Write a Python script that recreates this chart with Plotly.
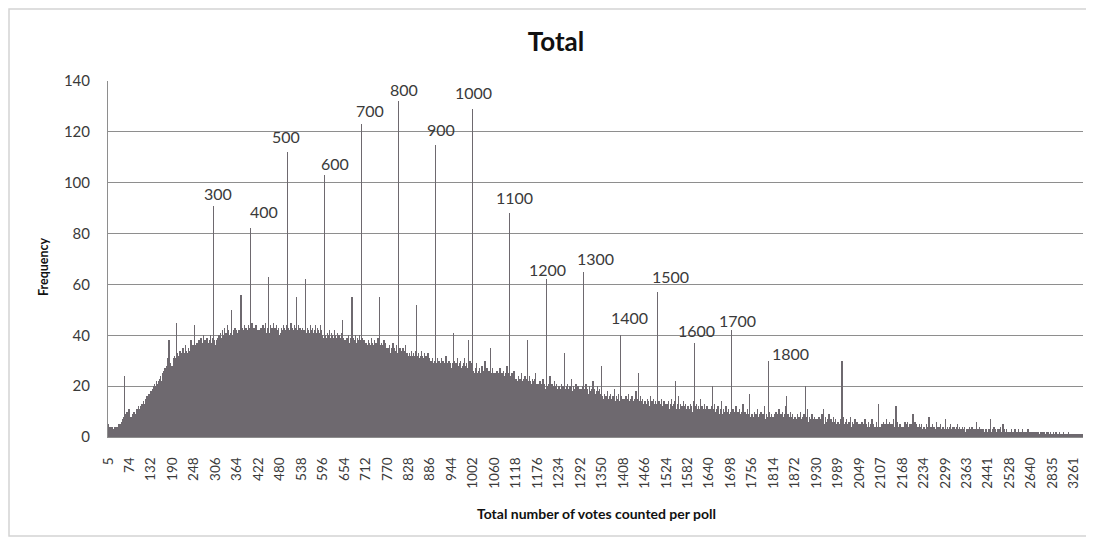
import plotly.graph_objects as go

# ---------------- data ----------------
tick_labels = [5, 74, 132, 190, 248, 306, 364, 422, 480, 538, 596, 654, 712, 770, 828, 886,
               944, 1002, 1060, 1118, 1176, 1234, 1292, 1350, 1408, 1466, 1524, 1582, 1640,
               1698, 1756, 1814, 1872, 1930, 1989, 2049, 2107, 2168, 2234, 2299, 2363, 2441,
               2528, 2640, 2835, 3261]

peak_labels = [300, 400, 500, 600, 700, 800, 900, 1000, 1100, 1200, 1300, 1400, 1500,
               1600, 1700, 1800]

# vote totals that occur below 74
vote_values_low = [5, 7, 9, 11, 12, 14, 16, 17, 19, 20, 22, 23, 25, 26, 27, 29, 30, 31, 32, 34,
                   35, 36, 37, 38, 40, 41, 42, 43, 44, 45, 46, 47, 48, 49, 50, 51, 52, 53, 54,
                   55, 56, 57, 58, 59, 60, 61, 62, 63, 64, 65, 66, 67, 68, 69, 70, 71, 72, 73]

# vote totals between 74 and 2527 that never occur
absent_values = [1971, 2019, 2043, 2126, 2149, 2161, 2177, 2186, 2195, 2203, 2211, 2218, 2224,
                 2231, 2241, 2249, 2258, 2266, 2275, 2284, 2293, 2307, 2316, 2327, 2336, 2345,
                 2356, 2366, 2370, 2373, 2377, 2381, 2384, 2388, 2391, 2395, 2398, 2402, 2406,
                 2409, 2413, 2417, 2421, 2425, 2429, 2433, 2437, 2443, 2446, 2449, 2452, 2455,
                 2458, 2461, 2464, 2467, 2470, 2473, 2476, 2479, 2482, 2485, 2488, 2491, 2494,
                 2497, 2502, 2505, 2508, 2511, 2514, 2517, 2519, 2521, 2523, 2525]

# vote totals that occur from 2528 upward
vote_values_sparse = [
    2528, 2530, 2532, 2533, 2535, 2537, 2539, 2540, 2542, 2544, 2546, 2548, 2549, 2551, 2553,
    2555, 2557, 2558, 2560, 2562, 2564, 2566, 2568, 2569, 2571, 2573, 2575, 2577, 2579, 2581,
    2583, 2585, 2587, 2589, 2591, 2593, 2595, 2597, 2599, 2600, 2602, 2604, 2606, 2608, 2610,
    2612, 2614, 2616, 2618, 2620, 2622, 2624, 2626, 2628, 2630, 2632, 2635, 2638,
    2640, 2643, 2646, 2650, 2653, 2656, 2660, 2663, 2666, 2670, 2673, 2677, 2680, 2683, 2687,
    2690, 2694, 2697, 2700, 2704, 2707, 2711, 2714, 2717, 2721, 2724, 2728, 2731, 2735, 2738,
    2741, 2745, 2748, 2752, 2755, 2759, 2762, 2766, 2769, 2773, 2776, 2780, 2783, 2787, 2790,
    2794, 2797, 2800, 2804, 2807, 2811, 2814, 2818, 2821, 2825, 2828, 2831, 2833,
    2835, 2842, 2849, 2856, 2864, 2871, 2878, 2886, 2893, 2900, 2908, 2915, 2922, 2930, 2937,
    2944, 2952, 2959, 2966, 2974, 2981, 2988, 2996, 3000, 3008, 3015, 3023, 3030, 3037, 3045,
    3052, 3060, 3067, 3074, 3082, 3089, 3097, 3104, 3111, 3119, 3126, 3134, 3141, 3148, 3156,
    3163, 3171, 3178, 3186, 3193, 3200, 3208, 3215, 3223, 3230, 3238, 3245, 3253,
    3261, 3278, 3296, 3315, 3340, 3362, 3391, 3418, 3450, 3487, 3520, 3566, 3610, 3655, 3712,
    3780, 3850, 3933, 4021, 4150, 4302, 4488, 4705, 5012, 5630]

# frequencies (number of polls) for each vote total, in order
frequency_low = [5, 4, 3, 4, 2, 3, 3, 2, 4, 3, 2, 3, 4, 3, 3, 2, 3, 4, 3, 3, 4, 3, 2, 4, 3, 3, 4, 3, 4, 5,
                 3, 4, 4, 5, 4, 5, 6, 5, 6, 7, 6, 7, 8, 7, 24, 8, 7, 8, 9, 8, 9, 10, 9, 10, 9, 11, 10, 11]

frequency_rise = [
    6, 4, 7, 5, 8, 6, 5, 7, 9, 6, 8, 7, 10, 7, 6, 9, 8, 7, 10, 8, 11, 9, 7, 10, 12, 8, 9, 11, 10, 8, 12, 10, 9, 13, 11, 10, 12, 14, 11, 10, 13, 12, 15, 11, 13, 12, 14, 16, 13, 12, 15, 14, 17, 13, 15, 16, 14, 18,
    16, 14, 18, 17, 15, 19, 16, 20, 18, 17, 21, 18, 16, 20, 19, 22, 18, 21, 20, 17, 22, 19, 23, 21, 18, 24, 20, 22, 21, 19, 25, 22, 20, 23, 21, 26, 22, 24, 27, 23, 21, 25, 24, 28, 23, 31, 25, 24, 38, 26, 23, 27, 25, 29, 26, 24, 28, 27,
    28, 26, 31, 27, 30, 26, 32, 29, 25, 31, 45, 28, 30, 33, 27, 31, 29, 32, 26, 30, 34, 28, 31, 29, 33, 30, 27, 32, 35, 29, 31, 28, 33, 30, 32, 36, 29, 31, 34, 30, 28, 33, 31, 35, 32, 29, 34, 31, 33, 30, 38, 32, 35, 31, 33, 36, 32, 34,
    32, 35, 44, 31, 34, 36, 30, 33, 37, 32, 35, 31, 34, 38, 33, 28, 36, 32, 35, 39, 31, 34, 37, 33, 32, 36, 40, 34, 29, 35, 38, 33, 36, 32, 34, 39, 35, 31, 37, 34, 33, 38, 32, 36, 35, 40, 34, 37, 33, 36, 32, 39, 91, 35, 38, 34, 37, 36,
    36, 33, 38, 35, 34, 39, 37, 33, 36, 40, 35, 38, 34, 37, 41, 36, 39, 35, 38, 42, 37, 32, 40, 36, 39, 43, 37, 35, 41, 38, 36, 40, 44, 37, 39, 35, 42, 38, 40, 36, 41, 39, 37, 43, 50, 38, 40, 36, 42, 39, 37, 41, 38, 43, 40, 34, 39, 42,
    39, 36, 41, 38, 40, 37, 42, 39, 35, 41, 38, 56, 40, 37, 43, 39, 33, 42, 38, 41, 44, 37, 40, 39, 43, 36, 41, 38, 42, 40, 37, 44, 39, 41, 38, 43, 82, 40, 37, 42, 39, 45, 38, 41, 40, 34, 43, 39, 42, 37, 41, 44, 38, 40, 42, 39, 37, 41,
    40, 37, 42, 39, 36, 41, 38, 43, 40, 37, 42, 39, 44, 38, 41, 32, 43, 40, 38, 42, 45, 39, 37, 41, 40, 43, 38, 42, 63, 39, 41, 37, 44, 40, 38, 42, 39, 43, 36, 41, 45, 38, 40, 42, 37, 43, 39, 41, 38, 44, 40, 37, 42, 39, 43, 41, 38, 40,
    39, 36, 41, 38, 43, 37, 40, 42, 38, 44, 39, 36, 41, 43, 38, 40, 37, 42, 39, 44, 112, 38, 41, 37, 43, 40, 31, 42, 39, 41, 45, 38, 40, 37, 43, 39, 42, 38, 41, 44, 37, 40, 39, 43, 38, 55, 40, 37, 42, 39, 44, 38, 41, 36, 43, 40, 38, 42,
    38, 41, 36, 40, 43, 37, 39, 42, 35, 40, 38, 44, 62, 39, 36, 41, 38, 43, 40, 37, 42, 39, 35, 41, 44, 38, 40, 36, 42, 39, 37, 43, 38, 41, 40, 30, 42, 39, 44, 37, 40, 38, 41, 35, 43, 39, 42, 37, 40, 38, 41, 44, 36, 39, 42, 38, 40, 37]

frequency_peak = [
    37, 34, 39, 36, 103, 38, 35, 40, 37, 33, 39, 36, 41, 34, 38, 35, 40, 37, 42, 34, 39, 36, 38, 33, 41, 37, 35, 40, 36, 39, 34, 42, 38, 29, 37, 40, 36, 33, 39, 37, 41, 35, 38, 36, 40, 34, 37, 39, 35, 38, 36, 41, 34, 37, 46, 36, 39, 35,
    36, 33, 38, 35, 32, 37, 34, 39, 36, 33, 38, 35, 40, 32, 37, 34, 36, 39, 33, 38, 35, 55, 34, 37, 32, 39, 36, 33, 38, 35, 40, 34, 37, 28, 36, 39, 33, 38, 35, 37, 34, 40, 32, 36, 38, 33, 123, 35, 37, 34, 39, 32, 36, 38, 34, 33, 37, 35,
    35, 32, 37, 34, 31, 36, 33, 38, 35, 32, 37, 33, 30, 36, 34, 39, 32, 35, 33, 37, 31, 36, 34, 32, 38, 33, 35, 27, 37, 34, 32, 36, 33, 39, 31, 35, 34, 32, 55, 33, 36, 31, 35, 37, 32, 34, 30, 36, 33, 38, 31, 35, 32, 34, 37, 30, 33, 35,
    33, 30, 35, 32, 29, 34, 31, 36, 28, 33, 30, 35, 32, 29, 34, 31, 37, 30, 33, 28, 35, 32, 30, 34, 31, 29, 36, 32, 30, 33, 132, 31, 34, 29, 32, 35, 30, 33, 28, 32, 34, 31, 29, 35, 32, 30, 33, 28, 34, 31, 36, 29, 32, 30, 33, 31, 28, 32,
    31, 28, 33, 30, 27, 32, 29, 34, 28, 31, 26, 32, 29, 33, 27, 30, 32, 28, 34, 29, 26, 31, 52, 28, 32, 29, 27, 33, 30, 28, 31, 26, 32, 29, 34, 27, 30, 28, 32, 29, 26, 31, 28, 33, 27, 30, 29, 32, 26, 31, 28, 30, 33, 27, 29, 31, 28, 30,
    28, 25, 30, 27, 24, 29, 26, 31, 25, 28, 23, 29, 26, 30, 115, 27, 24, 29, 26, 28, 31, 25, 27, 24, 30, 26, 28, 23, 29, 27, 25, 31, 26, 24, 28, 30, 25, 27, 23, 29, 26, 28, 25, 32, 24, 27, 29, 26, 23, 28, 25, 30, 27, 24, 26, 29, 25, 27,
    27, 24, 29, 26, 23, 28, 41, 25, 30, 27, 24, 26, 29, 23, 28, 25, 31, 26, 24, 28, 27, 22, 29, 25, 26, 30, 24, 27, 23, 28, 26, 25, 29, 24, 27, 31, 23, 26, 28, 25, 24, 29, 26, 27, 23, 28, 38, 25, 27, 24, 30, 26, 28, 25, 29, 27, 129, 26,
    24, 21, 26, 23, 20, 25, 22, 27, 24, 21, 29, 23, 20, 25, 22, 26, 24, 21, 27, 23, 25, 20, 24, 22, 28, 21, 25, 23, 26, 20, 24, 22, 30, 23, 21, 25, 24, 22, 27, 20, 23, 25, 21, 26, 24, 22, 23, 21, 35, 24, 20, 25, 23, 27, 21, 24, 22, 25,
    23, 20, 25, 22, 19, 24, 21, 26, 23, 20, 22, 25, 19, 23, 21, 27, 20, 24, 22, 19, 25, 21, 23, 20, 26, 22, 24, 19, 23, 21, 25, 22, 20, 24, 28, 21, 23, 19, 22, 25, 88, 21, 24, 20, 23, 22, 19, 25, 21, 23, 20, 24, 22, 26, 21, 23, 19, 22]

frequency_decline = [
    21, 18, 23, 20, 17, 22, 19, 24, 21, 18, 20, 23, 17, 21, 19, 25, 18, 22, 20, 17, 23, 19, 21, 18, 24, 20, 22, 17, 21, 19, 23, 20, 38, 22, 18, 21, 19, 24, 17, 20, 22, 18, 21, 19, 23, 20, 17, 22, 19, 21, 18, 23, 20, 25, 19, 21, 18, 20,
    19, 16, 21, 18, 15, 20, 17, 22, 19, 16, 18, 21, 15, 19, 17, 23, 16, 20, 18, 15, 21, 17, 19, 16, 62, 18, 20, 15, 19, 17, 21, 18, 16, 20, 24, 17, 19, 15, 18, 21, 16, 19, 17, 20, 18, 15, 22, 17, 19, 16, 20, 18, 21, 17, 19, 16, 18, 20,
    18, 15, 20, 17, 14, 19, 16, 21, 18, 15, 17, 20, 14, 18, 16, 22, 33, 19, 17, 14, 20, 16, 18, 15, 21, 17, 19, 14, 18, 16, 20, 17, 15, 19, 23, 16, 18, 14, 17, 20, 15, 18, 16, 19, 17, 14, 21, 16, 18, 15, 19, 17, 20, 16, 18, 15, 17, 19,
    17, 14, 19, 16, 13, 18, 15, 20, 65, 14, 16, 19, 13, 17, 15, 21, 14, 18, 16, 13, 19, 15, 17, 14, 20, 16, 18, 13, 17, 15, 19, 16, 14, 18, 22, 15, 17, 13, 16, 19, 14, 17, 15, 18, 16, 13, 20, 15, 17, 14, 18, 16, 19, 15, 17, 14, 16, 18,
    28, 12, 16, 13, 10, 15, 12, 17, 14, 11, 13, 16, 10, 14, 12, 18, 11, 15, 13, 10, 16, 12, 14, 11, 17, 13, 15, 10, 14, 12, 16, 13, 11, 15, 19, 12, 14, 10, 13, 16, 11, 14, 12, 15, 13, 10, 17, 12, 14, 11, 40, 13, 16, 12, 14, 11, 13, 15,
    13, 10, 15, 12, 9, 14, 11, 16, 13, 10, 12, 15, 9, 13, 11, 17, 10, 14, 12, 9, 15, 11, 13, 10, 16, 12, 14, 9, 13, 11, 15, 12, 10, 14, 18, 11, 13, 9, 12, 15, 10, 13, 25, 14, 12, 9, 16, 11, 13, 10, 14, 12, 15, 11, 13, 10, 12, 14,
    12, 9, 14, 11, 8, 13, 10, 15, 12, 9, 11, 14, 8, 12, 10, 16, 9, 13, 11, 8, 14, 10, 12, 9, 15, 11, 13, 8, 12, 10, 14, 11, 9, 13, 57, 10, 12, 8, 11, 14, 9, 12, 10, 13, 11, 8, 15, 10, 12, 9, 13, 11, 14, 10, 12, 9, 11, 13,
    11, 8, 13, 10, 7, 12, 9, 14, 11, 8, 10, 13, 7, 11, 9, 15, 8, 12, 10, 7, 13, 9, 11, 8, 14, 10, 22, 7, 11, 9, 13, 10, 8, 12, 16, 9, 11, 7, 10, 13, 8, 11, 9, 12, 10, 7, 14, 9, 11, 8, 12, 10, 13, 9, 11, 8, 10, 12,
    10, 7, 12, 9, 6, 11, 8, 13, 10, 7, 9, 12, 6, 10, 8, 14, 7, 11, 37, 9, 12, 8, 10, 7, 13, 9, 11, 6, 10, 8, 12, 9, 7, 11, 15, 8, 10, 6, 9, 12, 7, 10, 8, 11, 9, 6, 13, 8, 10, 7, 11, 9, 12, 8, 10, 7, 9, 11,
    9, 6, 11, 8, 5, 10, 7, 12, 9, 6, 20, 11, 5, 9, 7, 13, 6, 10, 8, 5, 11, 7, 9, 6, 12, 8, 10, 5, 9, 7, 11, 8, 6, 10, 14, 7, 9, 5, 8, 11, 6, 9, 7, 10, 8, 5, 12, 7, 9, 6, 10, 8, 11, 7, 9, 6, 8, 10,
    8, 5, 42, 7, 4, 9, 6, 11, 8, 5, 7, 10, 4, 8, 6, 12, 5, 9, 7, 4, 10, 6, 8, 5, 11, 7, 9, 4, 8, 6, 10, 7, 5, 9, 13, 6, 8, 4, 7, 10, 5, 8, 6, 9, 7, 4, 11, 6, 8, 5, 9, 7, 17, 6, 8, 5, 7, 9,
    7, 5, 9, 6, 4, 8, 6, 10, 7, 4, 6, 9, 4, 7, 5, 11, 5, 8, 6, 4, 9, 5, 7, 5, 10, 6, 8, 4, 7, 5, 9, 6, 4, 8, 12, 5, 7, 4, 6, 9, 5, 7, 6, 8, 30, 4, 10, 5, 7, 5, 8, 6, 9, 5, 7, 4, 6, 8,
    7, 5, 9, 6, 4, 8, 6, 10, 7, 4, 6, 9, 4, 7, 5, 11, 5, 8, 6, 4, 9, 5, 7, 5, 10, 6, 8, 4, 7, 5, 9, 6, 4, 8, 12, 5, 16, 4, 6, 9, 5, 7, 6, 8, 7, 4, 10, 5, 7, 5, 8, 6, 9, 5, 7, 4, 6, 8,
    6, 4, 8, 5, 4, 7, 5, 9, 6, 4, 5, 8, 3, 6, 5, 10, 4, 7, 5, 3, 8, 5, 6, 4, 9, 5, 7, 4, 20, 5, 8, 5, 4, 7, 11, 4, 6, 3, 6, 8, 4, 6, 5, 7, 6, 4, 9, 5, 6, 4, 7, 5, 8, 4, 6, 4, 5, 7]

frequency_tail = [
    5, 4, 7, 4, 3, 6, 4, 8, 5, 3, 4, 7, 3, 5, 4, 9, 3, 6, 4, 3, 11, 4, 5, 3, 8, 4, 6, 3, 5, 4, 7, 4, 3, 6, 9, 3, 5, 3, 4, 7, 3, 5, 4, 6, 5, 3, 8, 4, 5, 3, 6, 4, 7, 3, 5, 3, 4, 6,
    4, 3, 6, 4, 3, 5, 3, 7, 4, 3, 4, 30, 3, 5, 3, 8, 3, 5, 4, 2, 6, 3, 5, 3, 7, 4, 5, 2, 4, 3, 6, 4, 3, 5, 8, 3, 4, 2, 4, 6, 3, 4, 3, 5, 4, 2, 7, 3, 4, 3, 5, 4, 6, 3, 4, 2, 3, 5,
    4, 3, 5, 3, 2, 4, 3, 6, 4, 2, 3, 5, 3, 4, 3, 7, 2, 4, 3, 2, 5, 3, 4, 3, 6, 3, 4, 2, 4, 3, 5, 3, 2, 4, 7, 3, 4, 2, 3, 5, 2, 4, 3, 4, 3, 2, 6, 3, 4, 2, 4, 13, 5, 3, 4, 2, 3, 4,
    4, 3, 5, 4, 2, 5, 3, 6, 4, 3, 4, 5, 3, 4, 3, 7, 3, 5, 4, 2, 5, 3, 4, 3, 6, 4, 5, 2, 4, 3, 5, 4, 3, 4, 7, 3, 4, 2, 4, 5, 3, 12, 4, 5, 3, 2, 6, 3, 4, 3, 4, 3, 5, 3, 4, 2, 3, 4,
    4, 3, 4, 3, 2, 4, 3, 6, 3, 2, 3, 5, 2, 4, 3, 6, 2, 4, 3, 2, 5, 3, 4, 2, 5, 3, 4, 2, 3, 9, 4, 3, 2, 4, 6, 3, 3, 2, 3, 5, 2, 4, 3, 4, 3, 2, 5, 3, 4, 2, 4, 3, 5, 2, 3, 2, 3, 4,
    3, 2, 4, 3, 2, 3, 2, 5, 3, 2, 3, 4, 2, 3, 8, 5, 2, 3, 3, 2, 4, 2, 3, 2, 5, 3, 4, 2, 3, 2, 4, 3, 2, 3, 6, 2, 3, 2, 3, 4, 2, 3, 2, 4, 3, 2, 5, 3, 3, 2, 3, 3, 4, 2, 3, 2, 2, 3,
    3, 7, 3, 2, 2, 3, 2, 4, 2, 2, 3, 4, 2, 3, 2, 5, 2, 3, 2, 2, 4, 2, 3, 2, 4, 3, 3, 2, 3, 2, 4, 2, 2, 3, 5, 2, 3, 1, 2, 4, 2, 3, 2, 3, 2, 2, 4, 2, 3, 2, 3, 2, 4, 2, 2, 1, 2, 3,
    2, 3, 2, 1, 2, 3, 2, 4, 2, 1, 2, 3, 2, 2, 1, 4, 2, 3, 2, 1, 3, 2, 2, 1, 3, 2, 3, 6, 2, 1, 3, 2, 2, 3, 4, 2, 2, 1, 2, 3, 1, 2, 2, 3, 2, 1, 3, 2, 2, 1, 2, 2, 3, 1, 2, 1, 2, 2,
    2, 1, 3, 2, 1, 2, 7, 3, 1, 2, 2, 1, 3, 2, 1, 2, 4, 2, 1, 2, 3, 1, 2, 2, 1, 3, 2, 1, 2, 3, 1, 2, 2, 1, 4, 2, 1, 2, 2, 1, 5, 2, 1, 3, 2, 1, 2, 2, 1, 3, 1, 2, 2, 1, 2, 1, 2, 1]

frequency_sparse = [
    2, 1, 2, 1, 1, 3, 1, 2, 1, 1, 2, 1, 1, 2, 1, 3, 1, 1, 2, 1, 1, 2, 1, 1, 3, 1, 2, 1, 1, 2, 1, 1, 2, 1, 1, 3, 1, 1, 2, 1, 1, 2, 1, 1, 2, 1, 1, 2, 1, 1, 3, 1, 1, 2, 1, 1, 2, 1,
    1, 2, 1, 1, 1, 2, 1, 1, 2, 1, 1, 1, 2, 1, 1, 1, 2, 1, 1, 1, 1, 2, 1, 1, 1, 2, 1, 1, 1, 1, 2, 1, 1, 1, 1, 2, 1, 1, 1, 1, 1, 2, 1, 1, 1, 1, 2, 1, 1, 1, 1, 1, 2, 1, 1, 1, 1, 1,
    1, 1, 1, 2, 1, 1, 1, 1, 1, 1, 2, 1, 1, 1, 1, 1, 1, 1, 1, 2, 1, 1, 1, 1, 1, 1, 1, 1, 1, 1, 2, 1, 1, 1, 1, 1, 1, 1, 1, 1, 1, 1, 1, 2, 1, 1, 1, 1, 1, 1, 1, 1, 1, 1, 1, 1, 1, 1,
    1, 1, 1, 1, 1, 1, 1, 1, 1, 1, 1, 1, 1, 1, 1, 1, 1, 1, 1, 1, 1, 1, 1, 1, 1]

# ---------------- assemble ----------------
_absent = set(absent_values)
vote_values = vote_values_low + [v for v in range(74, 2528) if v not in _absent] + vote_values_sparse
frequency = (frequency_low + frequency_rise + frequency_peak + frequency_decline
             + frequency_tail + frequency_sparse)
n = min(len(vote_values), len(frequency))
vote_values = vote_values[:n]
frequency = frequency[:n]
categories = [str(v) for v in vote_values]
freq_by_value = dict(zip(vote_values, frequency))

# ---------------- style ----------------
FONT = "Lato"
BAR = "#6e696f"
GRID = "#8e8e8e"
TEXT = "#3a3a3a"

# page body margin of the browser (figure starts 8px in)
OFF = 8
W, H = 1094 - OFF, 539 - OFF
L, R, T, B = 108 - OFF, 1083 - OFF, 81 - OFF, 437 - OFF
PW, PH = R - L, B - T


def px(page_x):
    return (page_x - OFF - L) / PW


def py(page_y):
    return (B - (page_y - OFF)) / PH


# label nudges (px) to mimic hand-placed data labels: (dx, dy above spike top)
label_nudge = {300: (-1, 12), 400: (8, 17), 500: (-7, 16), 600: (5, 12), 700: (3, 14),
               800: (0, 12), 900: (0, 15), 1000: (-5, 16), 1100: (-1, 16), 1200: (-5, 10),
               1300: (6, 13), 1400: (3, 18), 1500: (7, 16), 1600: (-4, 12), 1700: (0, 10),
               1800: (16, 7)}

fig = go.Figure(go.Bar(x=categories, y=frequency, marker=dict(color=BAR, line=dict(width=0)),
                       hoverinfo="x+y"))

annotations = []
for v in peak_labels:
    dx, dy = label_nudge[v]
    annotations.append(dict(x=str(v), y=freq_by_value[v], xref="x", yref="y", text=str(v),
                            showarrow=False, xanchor="center", yanchor="middle",
                            xshift=dx, yshift=dy,
                            font=dict(family=FONT, size=16, color=TEXT)))

annotations.append(dict(x=px(43), y=py(267), xref="paper", yref="paper", text="<b>Frequency</b>",
                        textangle=-90, showarrow=False, xanchor="center", yanchor="middle",
                        font=dict(family=FONT, size=12.5, color="#111111")))
annotations.append(dict(x=px(596), y=py(513), xref="paper", yref="paper",
                        text="<b>Total number of votes counted per poll</b>",
                        showarrow=False, xanchor="center", yanchor="middle",
                        font=dict(family=FONT, size=14, color="#111111")))

fig.update_layout(
    width=W, height=H,
    margin=dict(l=L, r=W - R, t=T, b=H - B, autoexpand=False),
    paper_bgcolor="white", plot_bgcolor="white",
    bargap=0, showlegend=False,
    title=dict(text="<b>Total</b>", x=(556 - OFF) / W, xref="container", xanchor="center",
               y=1 - (42 - OFF) / H, yref="container", yanchor="middle",
               font=dict(family=FONT, size=26, color="#111111")),
    font=dict(family=FONT, color=TEXT),
    annotations=annotations,
    shapes=[dict(type="rect", xref="paper", yref="paper",
                 x0=px(9), x1=px(1090), y0=py(536), y1=py(9),
                 line=dict(color="#d4d4d4", width=1.5), fillcolor="rgba(0,0,0,0)", layer="below")],
)

fig.update_xaxes(type="category", tickmode="array",
                 tickvals=[str(t) for t in tick_labels], ticktext=[str(t) for t in tick_labels],
                 tickangle=-90, tickfont=dict(family=FONT, size=13.5, color=TEXT),
                 showgrid=False, showline=True, linecolor=GRID, linewidth=1,
                 ticks="", ticklabelstandoff=14, range=[-0.5, n - 0.5], automargin=False)
fig.update_yaxes(range=[0, 140], tick0=0, dtick=20, showgrid=True, gridcolor=GRID, gridwidth=1,
                 showline=True, linecolor=GRID, linewidth=1, zeroline=False, ticks="",
                 tickfont=dict(family=FONT, size=15, color=TEXT), ticklabelstandoff=14,
                 automargin=False)

fig.write_html("out.html")
